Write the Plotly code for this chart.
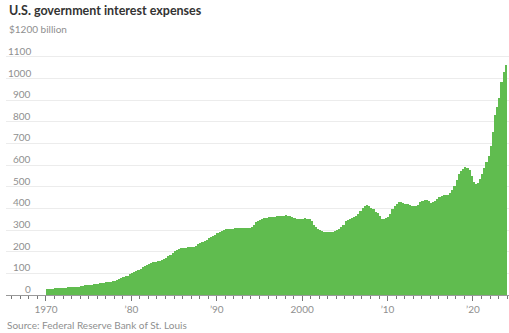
import numpy as np
import plotly.graph_objects as go

years = list(range(1970, 2024))
quarters = [1, 2, 3, 4]

# Interest expenses, $ billion (annualized), quarterly 1970Q1..2023Q4
values_by_year = {
    1970: [28, 29, 30, 30], 1971: [31, 31, 32, 32], 1972: [33, 34, 35, 35],
    1973: [36, 37, 38, 39], 1974: [41, 43, 44, 45], 1975: [46, 48, 50, 51],
    1976: [53, 54, 55, 57], 1977: [58, 60, 62, 64], 1978: [66, 70, 74, 78],
    1979: [82, 86, 90, 95], 1980: [100, 105, 110, 116], 1981: [122, 128, 134, 140],
    1982: [145, 149, 152, 154], 1983: [156, 158, 162, 166], 1984: [172, 180, 187, 195],
    1985: [203, 209, 213, 216], 1986: [218, 219, 220, 221], 1987: [222, 224, 228, 234],
    1988: [239, 245, 250, 256], 1989: [262, 268, 273, 279], 1990: [285, 292, 297, 301],
    1991: [303, 305, 306, 307], 1992: [308, 309, 309, 310], 1993: [310, 309, 310, 311],
    1994: [315, 325, 335, 342], 1995: [348, 352, 355, 357], 1996: [359, 360, 361, 362],
    1997: [363, 365, 366, 367], 1998: [368, 367, 364, 360], 1999: [355, 353, 352, 352],
    2000: [353, 354, 353, 351], 2001: [340, 325, 312, 305], 2002: [300, 296, 293, 291],
    2003: [290, 290, 291, 294], 2004: [299, 305, 315, 325], 2005: [340, 347, 352, 356],
    2006: [360, 365, 375, 388], 2007: [400, 410, 414, 412], 2008: [402, 395, 385, 378],
    2009: [365, 352, 350, 354], 2010: [360, 375, 395, 410], 2011: [420, 428, 430, 426],
    2012: [422, 419, 416, 412], 2013: [409, 412, 418, 428], 2014: [436, 440, 438, 434],
    2015: [426, 428, 435, 445], 2016: [454, 457, 460, 462], 2017: [463, 470, 484, 505],
    2018: [530, 560, 575, 583], 2019: [589, 588, 577, 550], 2020: [520, 514, 518, 538],
    2021: [560, 585, 615, 640], 2022: [690, 755, 832, 870], 2023: [909, 985, 1031, 1062],
}

y_tick_values = [0, 100, 200, 300, 400, 500, 600, 700, 800, 900, 1000, 1100, 1200]
y_tick_labels = ["0", "100", "200", "300", "400", "500", "600", "700", "800",
                 "900", "1000", "1100", "$1200"]
x_tick_values = [1970, 1980, 1990, 2000, 2010, 2020]
x_tick_labels = ["1970", "\u201980", "\u201990", "2000", "\u201910", "\u201920"]

x = []
y = []
for yr in years:
    for q, v in zip(quarters, values_by_year[yr]):
        x.append(yr + (q - 1) * 0.25 + 0.125)
        y.append(v)

GREEN = "#60bc4f"
GRAY = "#8f8f8f"
FONT = "Lato"

fig = go.Figure(go.Bar(x=x, y=y, width=0.25 * 0.85, marker=dict(color=GREEN, line=dict(width=0)),
                       hoverinfo="skip"))

fig.update_layout(
    width=509, height=333,
    margin=dict(l=6, r=0, t=35, b=38),
    paper_bgcolor="white", plot_bgcolor="white",
    showlegend=False,
    bargap=0,
    font=dict(family=FONT, color=GRAY, size=10),
)
fig.update_xaxes(
    range=[1965.32, 2024.22],
    tickmode="array", tickvals=x_tick_values, ticktext=x_tick_labels,
    ticks="outside", ticklen=5, tickcolor="#777", tickwidth=1,
    minor=dict(dtick=1, tick0=1970, ticks="outside", ticklen=3, tickcolor="#777", showgrid=False),
    showline=True, linecolor="#999", linewidth=1,
    showgrid=False, zeroline=False,
    tickfont=dict(family=FONT, size=10, color=GRAY),
)
fig.update_yaxes(
    range=[0, 1201],
    tickmode="array", tickvals=y_tick_values,
    showticklabels=False, ticks="",
    showgrid=True, gridcolor="#ececec", gridwidth=1,
    zeroline=False, showline=False,
)

label_x = (33 - 6) / 503
for v, t in zip(y_tick_values, y_tick_labels):
    if t.startswith("$"):
        fig.add_annotation(xref="paper", yref="y", x=label_x, y=v, text=t + " billion",
                           showarrow=False, xanchor="left", yanchor="middle", yshift=6,
                           xshift=-26, font=dict(family=FONT, size=10, color=GRAY))
    else:
        fig.add_annotation(xref="paper", yref="y", x=label_x, y=v, text=t,
                           showarrow=False, xanchor="right", yanchor="middle", yshift=6,
                           font=dict(family=FONT, size=10, color=GRAY))

fig.add_annotation(xref="paper", yref="paper", x=0, xshift=1, y=1, yshift=25,
                   text="<b>U.S. government interest expenses</b>", showarrow=False,
                   xanchor="left", yanchor="middle",
                   font=dict(family=FONT, size=12.5, color="#333"))
fig.add_annotation(xref="paper", yref="paper", x=0, xshift=-1, y=0, yshift=-30,
                   text="Source: Federal Reserve Bank of St. Louis", showarrow=False,
                   xanchor="left", yanchor="middle",
                   font=dict(family=FONT, size=10, color=GRAY))

fig.write_html("out.html", config={"displayModeBar": False},
               post_script="document.body.style.margin='0';")
